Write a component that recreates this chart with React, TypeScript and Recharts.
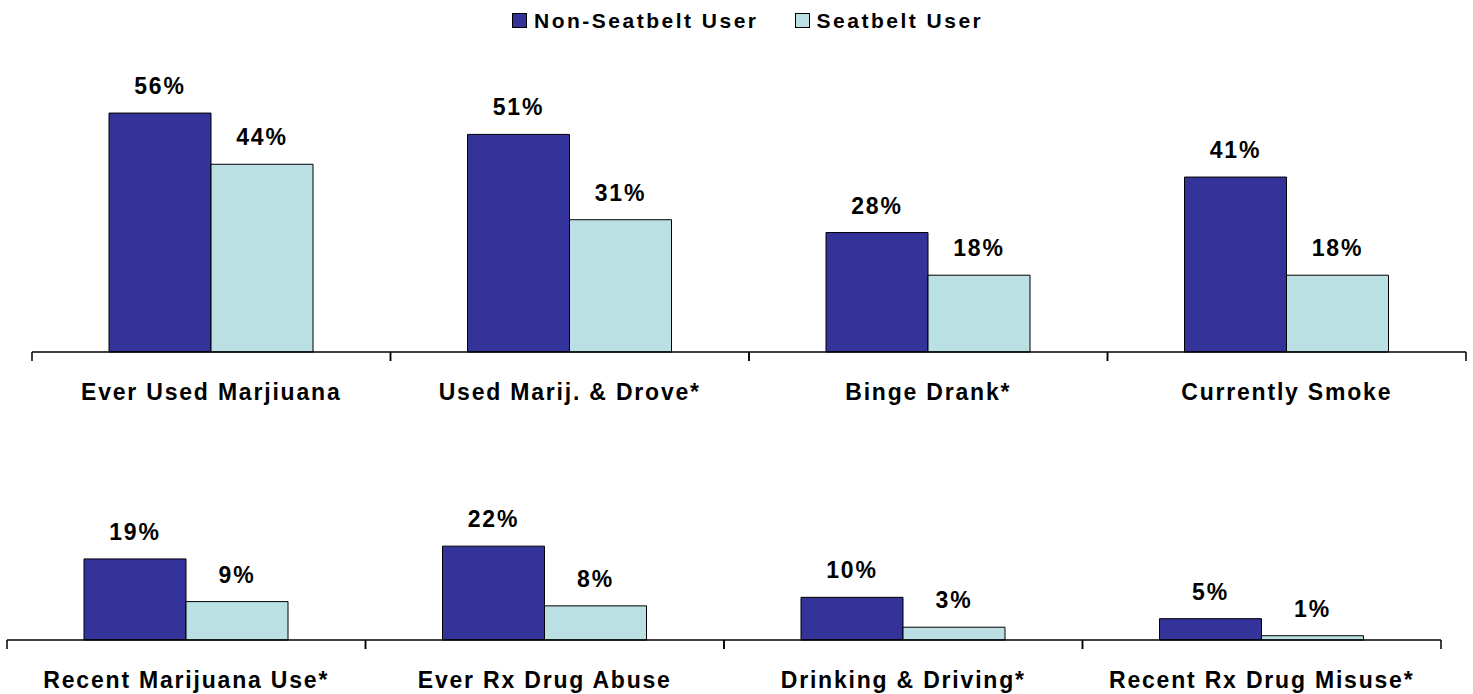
import React from 'react';
import { BarChart, Bar, XAxis, YAxis, LabelList } from 'recharts';

const topCategories = ['Ever Used Marjiuana', 'Used Marij. & Drove*', 'Binge Drank*', 'Currently Smoke'];
const topNonSeatbelt = [56, 51, 28, 41];
const topSeatbelt = [44, 31, 18, 18];

const bottomCategories = ['Recent Marijuana Use*', 'Ever Rx Drug Abuse', 'Drinking & Driving*', 'Recent Rx Drug Misuse*'];
const bottomNonSeatbelt = [19, 22, 10, 5];
const bottomSeatbelt = [9, 8, 3, 1];

const seriesNames = ['Non-Seatbelt User', 'Seatbelt User'];
const COLORS = ['#333399', '#BBE0E3'];

const FONT = '"Liberation Sans", Arial, Helvetica, sans-serif';

const topData = topCategories.map((name, i) => ({
  name,
  nonSeatbelt: topNonSeatbelt[i],
  seatbelt: topSeatbelt[i],
}));

const bottomData = bottomCategories.map((name, i) => ({
  name,
  nonSeatbelt: bottomNonSeatbelt[i],
  seatbelt: bottomSeatbelt[i],
}));

const CategoryTick = (props: any) => {
  const { x, y, payload } = props;
  const half = payload?.offset ?? 179.25;
  return (
    <g>
      <line x1={x - half} x2={x - half} y1={y} y2={y + 9} stroke="#000" strokeWidth={1.5} />
      <line x1={x + half} x2={x + half} y1={y} y2={y + 9} stroke="#000" strokeWidth={1.5} />
      <text
        x={x}
        y={y + 48}
        textAnchor="middle"
        fill="#000"
        fontSize={23}
        fontWeight="bold"
        fontFamily={FONT}
        letterSpacing={1.8}
      >
        {payload.value}
      </text>
    </g>
  );
};

const ValueLabel = (props: any) => {
  const { x, y, width, value } = props;
  return (
    <text
      x={Number(x) + Number(width) / 2}
      y={Number(y) - 19}
      textAnchor="middle"
      fill="#000"
      fontSize={23}
      fontWeight="bold"
      fontFamily={FONT}
      letterSpacing={1.8}
    >
      {`${value}%`}
    </text>
  );
};

interface PanelProps {
  data: { name: string; nonSeatbelt: number; seatbelt: number }[];
  top: number;
  height: number;
  axisHeight: number;
  marginTop: number;
  marginLeft: number;
  marginRight: number;
  maxY: number;
}

const Panel: React.FC<PanelProps> = ({ data, top, height, axisHeight, marginTop, marginLeft, marginRight, maxY }) => (
  <div style={{ position: 'absolute', left: 0, top }}>
    <BarChart
      width={1473}
      height={height}
      data={data}
      margin={{ top: marginTop, right: marginRight, left: marginLeft, bottom: 0 }}
      barGap={0}
      barSize={102}
    >
      <XAxis
        dataKey="name"
        height={axisHeight}
        tickSize={0}
        tickMargin={0}
        tickLine={false}
        axisLine={{ stroke: '#000', strokeWidth: 1.5 }}
        tick={<CategoryTick />}
        interval={0}
      />
      <YAxis hide domain={[0, maxY]} />
      <Bar dataKey="nonSeatbelt" name={seriesNames[0]} fill={COLORS[0]} stroke="#000" strokeWidth={1} isAnimationActive={false}>
        <LabelList dataKey="nonSeatbelt" content={<ValueLabel />} />
      </Bar>
      <Bar dataKey="seatbelt" name={seriesNames[1]} fill={COLORS[1]} stroke="#000" strokeWidth={1} isAnimationActive={false}>
        <LabelList dataKey="seatbelt" content={<ValueLabel />} />
      </Bar>
    </BarChart>
  </div>
);

const LegendItem: React.FC<{ color: string; label: string }> = ({ color, label }) => (
  <div style={{ display: 'flex', alignItems: 'center' }}>
    <span
      style={{
        display: 'inline-block',
        width: 13,
        height: 13,
        background: color,
        border: '1px solid #000',
        marginRight: 7,
      }}
    />
    <span style={{ fontSize: 21, fontWeight: 'bold', letterSpacing: 2.5, lineHeight: '21px' }}>{label}</span>
  </div>
);

export default function App() {
  return (
    <div
      style={{
        position: 'absolute',
        left: 0,
        top: 0,
        width: 1473,
        height: 694,
        background: '#fff',
        fontFamily: FONT,
        overflow: 'hidden',
      }}
    >
      <div style={{ position: 'absolute', left: 512, top: 10, display: 'flex', gap: 36 }}>
        {seriesNames.map((s, i) => (
          <LegendItem key={s} color={COLORS[i]} label={s} />
        ))}
      </div>
      <Panel data={topData} top={0} height={420} axisHeight={68} marginTop={96} marginLeft={32} marginRight={7} maxY={60} />
      <Panel data={bottomData} top={430} height={264} axisHeight={54} marginTop={82} marginLeft={7} marginRight={32} maxY={30} />
    </div>
  );
}
